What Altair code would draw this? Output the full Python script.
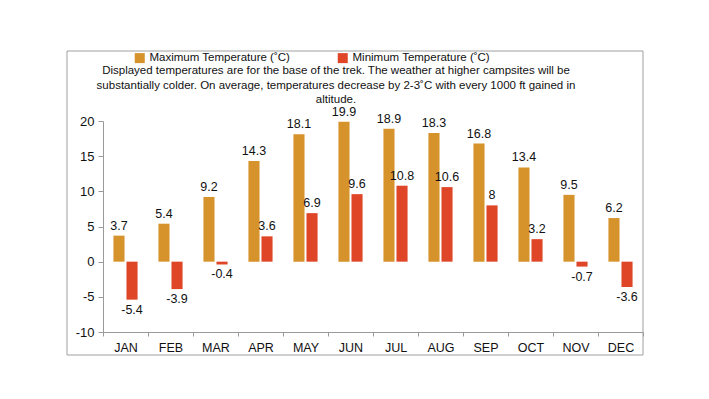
import altair as alt
import pandas as pd

months = ["JAN", "FEB", "MAR", "APR", "MAY", "JUN", "JUL", "AUG", "SEP", "OCT", "NOV", "DEC"]
max_temps = [3.7, 5.4, 9.2, 14.3, 18.1, 19.9, 18.9, 18.3, 16.8, 13.4, 9.5, 6.2]
min_temps = [-5.4, -3.9, -0.4, 3.6, 6.9, 9.6, 10.8, 10.6, 8, 3.2, -0.7, -3.6]
series = ["Maximum Temperature (˚C)", "Minimum Temperature (˚C)"]
colors = ["#D6922B", "#DF4527"]
y_ticks = [-10, -5, 0, 5, 10, 15, 20]
note_lines = [
    "Displayed temperatures are for the base of the trek. The weather at higher campsites will be",
    "substantially colder. On average, temperatures decrease by 2-3˚C with every 1000 ft gained in",
    "altitude.",
]

FONT = "Liberation Sans, Arial, sans-serif"

rows = []
for m, a, b in zip(months, max_temps, min_temps):
    rows.append({"month": m, "series": series[0], "value": a, "label": f"{a:g}"})
    rows.append({"month": m, "series": series[1], "value": b, "label": f"{b:g}"})
df = pd.DataFrame(rows)

x_enc = alt.X("month:N", sort=months, title=None,
              scale=alt.Scale(paddingInner=0, paddingOuter=0),
              axis=alt.Axis(labelAngle=0, tickBand="extent", domainColor="#9a9a9a",
                            tickColor="#9a9a9a", tickSize=4, labelFontSize=12.5,
                            labelColor="#111", labelPadding=5, labelFont=FONT, grid=False))
xoff = alt.XOffset("series:N", sort=series,
                   scale=alt.Scale(paddingInner=0.15, paddingOuter=0.8))
y_enc = alt.Y("value:Q", title=None,
              scale=alt.Scale(domain=[-10, 20], nice=False, zero=False),
              axis=alt.Axis(values=y_ticks, grid=False, domainColor="#9a9a9a",
                            tickColor="#9a9a9a", tickSize=5, labelFontSize=13,
                            labelColor="#111", labelPadding=4, labelFont=FONT,
                            labelOverlap=False, labelExpr="datum.value + ''"))

base = alt.Chart(df)

bars = base.mark_bar().encode(
    x=x_enc, xOffset=xoff, y=y_enc,
    color=alt.Color("series:N", sort=series,
                    scale=alt.Scale(domain=series, range=colors),
                    legend=alt.Legend(title=None, orient="none", legendX=31, legendY=-69,
                                      direction="horizontal", columns=2, symbolType="square",
                                      symbolSize=100, symbolStrokeWidth=0, labelFontSize=11.5,
                                      labelFont=FONT, labelColor="#111", columnPadding=46,
                                      gridAlign="all", padding=0, labelLimit=300)),
)

pos_labels = base.mark_text(baseline="bottom", dy=-3, fontSize=12.5, color="#111", font=FONT).encode(
    x=x_enc, xOffset=xoff, y=y_enc, text="label:N"
).transform_filter("datum.value >= 0")

neg_labels = base.mark_text(baseline="top", dy=4, fontSize=12.5, color="#111", font=FONT).encode(
    x=x_enc, xOffset=xoff, y=y_enc, text="label:N"
).transform_filter("datum.value < 0")

frame_df = pd.DataFrame({"k": [0]})
border = alt.Chart(frame_df).mark_rect(fill=None, stroke="#a0a0a0", strokeWidth=1).encode(
    x=alt.value(-36), x2=alt.value(540), y=alt.value(-70), y2=alt.value(234)
)

note = alt.Chart(frame_df).mark_text(
    baseline="top", align="center", fontSize=11.5, color="#111", font=FONT,
    lineBreak="\n", lineHeight=14.5
).encode(
    x=alt.value(233), y=alt.value(-56), text=alt.value("\n".join(note_lines))
)

chart = alt.layer(border, bars, pos_labels, neg_labels, note).properties(
    width=540, height=211,
    autosize=alt.AutoSizeParams(type="none"),
    padding={"left": 95, "top": 113, "right": 50, "bottom": 40},
).configure(font=FONT).configure_view(stroke="transparent", strokeWidth=0)

chart.save("out.html", embed_options={"renderer": "svg", "actions": False})
